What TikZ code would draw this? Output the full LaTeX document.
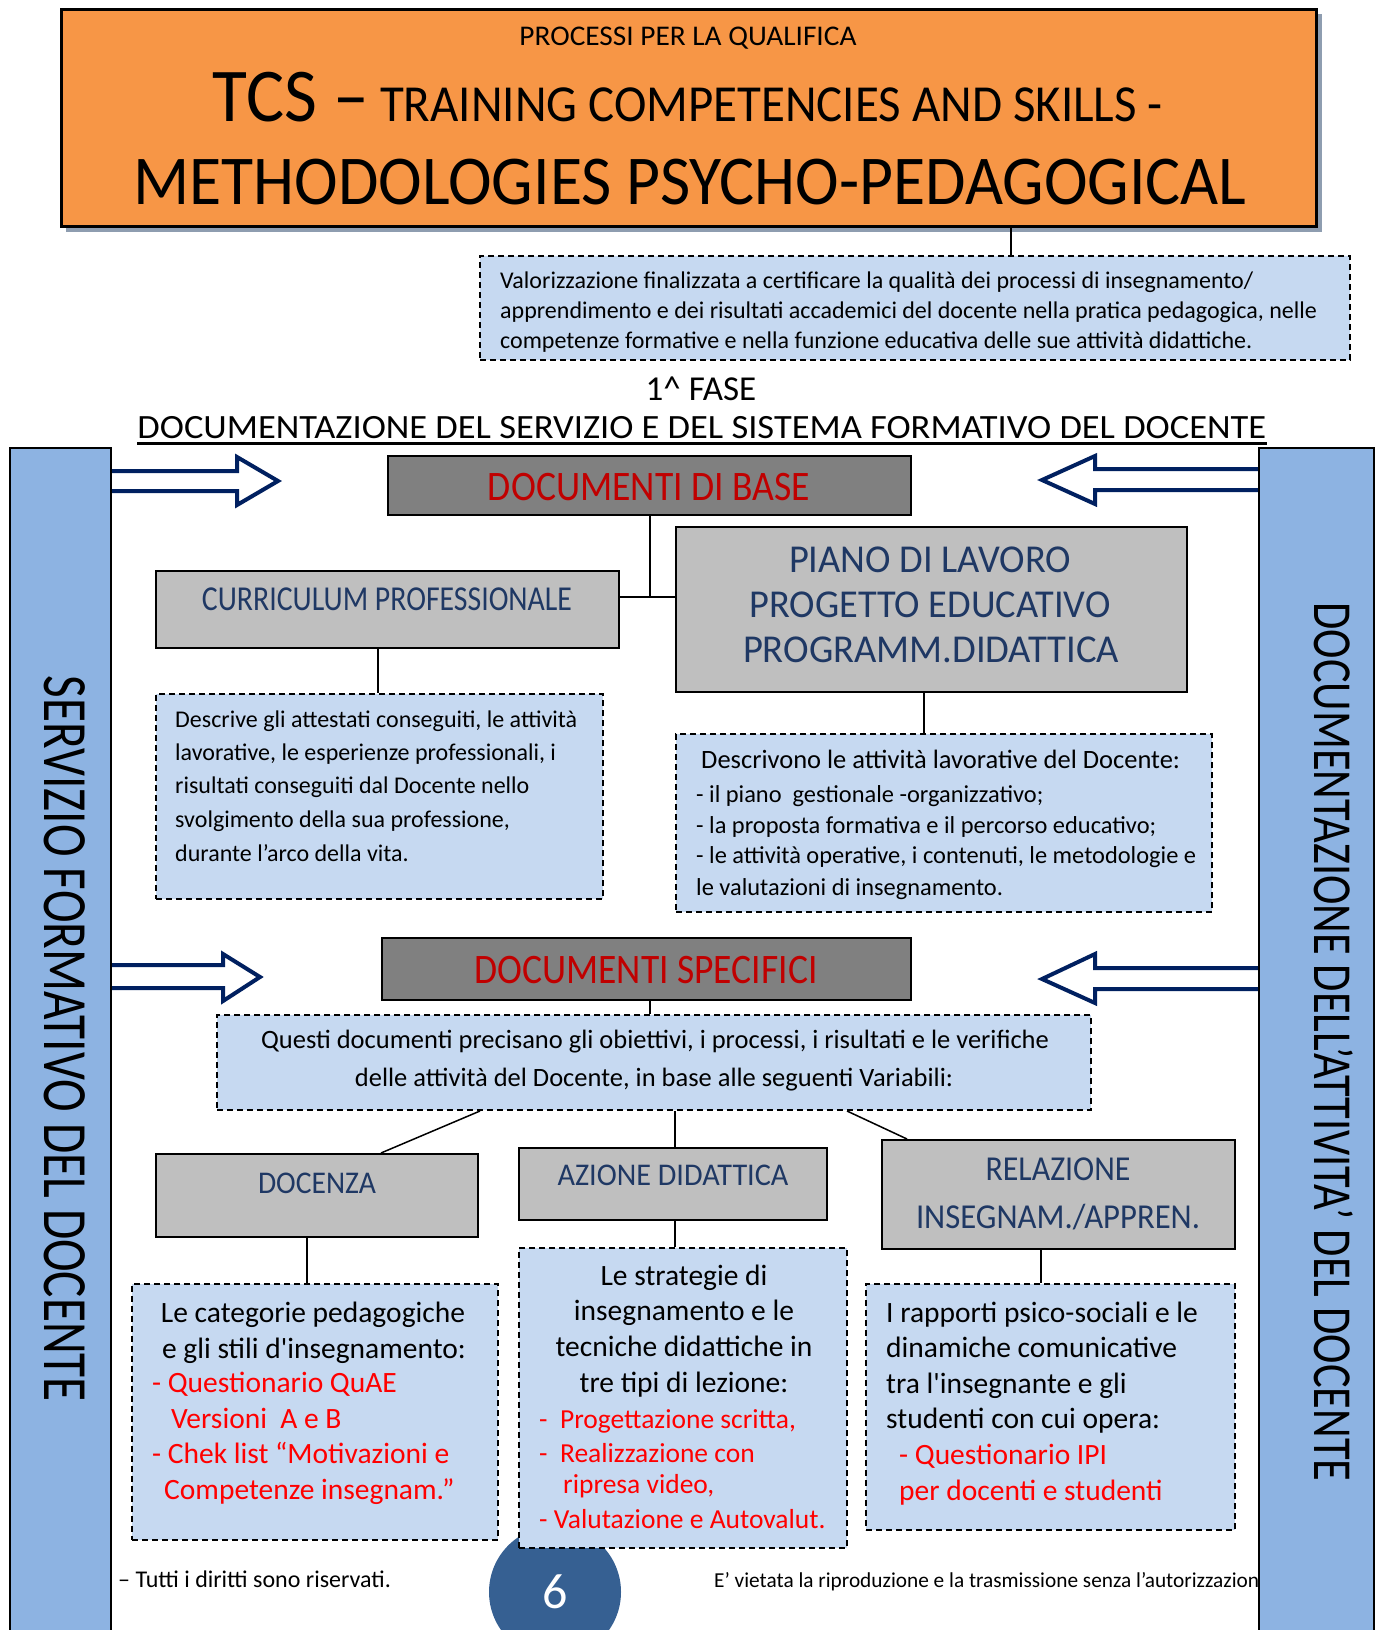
\documentclass[tikz,border=0pt]{standalone}
\usepackage{fontspec}
\setmainfont{Carlito}
\usepackage{graphicx}
\usetikzlibrary{fit}
\definecolor{orangeT}{HTML}{F79646}
\definecolor{shadowT}{HTML}{8E9DB0}
\definecolor{lblue}{HTML}{C6D9F1}
\definecolor{barblue}{HTML}{8DB3E2}
\definecolor{dgray}{HTML}{808080}
\definecolor{lgray}{HTML}{BFBFBF}
\definecolor{navyt}{HTML}{1F3864}
\definecolor{redh}{HTML}{C00000}
\definecolor{redb}{HTML}{FF0000}
\definecolor{arrnavy}{HTML}{002060}
\definecolor{circblue}{HTML}{366092}
\newcommand\fitw[2]{\resizebox{#1pt}{\height}{#2}}
\newcommand\fsz[1]{\fontsize{#1}{#1}\selectfont}
\begin{document}
\begin{tikzpicture}[x=1pt,y=-1pt,
 tx/.style={inner sep=0pt, anchor=base west},
 tc/.style={inner sep=0pt, anchor=base},
 dbox/.style={draw=black, line width=2pt, dash pattern=on 6pt off 4pt, fill=lblue, inner sep=0pt},
 gbox/.style={draw=black, line width=2pt, fill=lgray, inner sep=0pt},
 hbox/.style={draw=black, line width=2pt, fill=dgray, inner sep=0pt},
 sidebar/.style={draw=black, line width=2pt, fill=barblue, inner sep=0pt},
 conn/.style={draw=black, line width=1.5pt},
 barrow/.style={draw=arrnavy, line width=4pt, fill=white, line join=miter},
]
\useasboundingbox (0,0) rectangle (1382,1630);
\fill[white] (0,0) rectangle (1382,1630);

% header
\fill[shadowT] (66,14) rectangle (1322,232);
\node[draw=black, line width=3pt, fill=orangeT, inner sep=0pt, fit={(61.5,9) (1316.5,226)}] (title) {};
\node[tc] (tproc) at (688,45) {\fsz{28.5}\fitw{337}{PROCESSI PER LA QUALIFICA}};
\node[tc] (ttcs) at (688,121) {\fitw{950}{\fsz{76}TCS –\fsz{52} TRAINING COMPETENCIES AND SKILLS -}};
\node[tc] (tmeth) at (690,204) {\fsz{70}\fitw{1113}{METHODOLOGIES PSYCHO-PEDAGOGICAL}};

\node[dbox, fit={(480,256) (1350,360)}] (val) {};
\coordinate (c1) at (1011,0);
\draw[conn] (title.south -| c1) -- (val.north -| c1);
\node[tx] (v1) at (500,288) {\fsz{24}Valorizzazione finalizzata a certificare la qualità dei processi di insegnamento/};
\node[tx] (v2) at (500,318) {\fsz{24}apprendimento e dei risultati accademici del docente nella pratica pedagogica, nelle};
\node[tx] (v3) at (500,348) {\fsz{24}competenze formative e nella funzione educativa delle sue attività didattiche.};

\node[tc] (fase) at (701,400) {\fsz{35}1\textasciicircum\ FASE};
\node[tc] (doctitle) at (702,438) {\fsz{34}\fitw{1129}{DOCUMENTAZIONE DEL SERVIZIO E DEL SISTEMA FORMATIVO DEL DOCENTE}};
\draw[line width=3pt] ([yshift=-5pt]doctitle.base west) -- ([yshift=-5pt]doctitle.base east);

% page circle (behind boxes)
\node[circle, fill=circblue, minimum size=132pt, inner sep=0pt, text=white] (pg) at (555,1592) {\fsz{50}6};

% footers
\node[tx] (fl) at (118,1587) {\fsz{24}– Tutti i diritti sono riservati.};
\node[tx] (fr) at (714,1587) {\fsz{21.3}E’ vietata la riproduzione e la trasmissione senza l’autorizzazion};

% block arrows
\draw[barrow] (111,471) -- (237,471) -- (237,457) -- (278,481) -- (237,505) -- (237,491) -- (111,491);
\draw[barrow] (111,965) -- (223,965) -- (223,954) -- (260,977) -- (223,1001) -- (223,988) -- (111,988);
\draw[barrow] (1259,469) -- (1095,469) -- (1095,456) -- (1042,480) -- (1095,504) -- (1095,490) -- (1259,490);
\draw[barrow] (1259,968) -- (1095,968) -- (1095,954) -- (1042,979) -- (1095,1003) -- (1095,989) -- (1259,989);

% side bars
\node[sidebar, fit={(10,448) (111,1645)}] (barL) {};
\node[sidebar, fit={(1259,448) (1374,1645)}] (barR) {};
\node[rotate=-90, tc] (vL) at (45,1039) {\fsz{63}\fitw{726}{SERVIZIO FORMATIVO DEL DOCENTE}};
\node[rotate=-90, tc] (vR) at (1314,1042) {\fsz{55}\fitw{879}{DOCUMENTAZIONE DELL’ATTIVITA’ DEL DOCENTE}};

% boxes
\node[hbox, fit={(388,456) (911,515)}] (base) {};
\node[gbox, fit={(156,571) (619,648)}] (cur) {};
\node[gbox, fit={(676,527) (1187,692)}] (pia) {};
\node[dbox, fit={(156,694) (603,899)}] (curd) {};
\node[dbox, fit={(676,734) (1212,912)}] (piad) {};
\node[hbox, fit={(382,938) (911,1000)}] (spec) {};
\node[dbox, fit={(217,1015) (1091,1110)}] (que) {};
\node[gbox, fit={(156,1154) (478,1237)}] (docz) {};
\node[gbox, fit={(519,1148) (827,1220)}] (azi) {};
\node[gbox, fit={(882,1140) (1235,1249)}] (rel) {};
\node[dbox, fit={(132,1284) (498,1540)}] (doczd) {};
\node[dbox, fit={(519,1248) (847,1548)}] (azid) {};
\node[dbox, fit={(866,1284) (1235,1530)}] (reld) {};

% connectors
\coordinate (j) at (650,597);
\draw[conn] (base.south -| j) -- (j);
\draw[conn] (cur.east |- j) -- (pia.west |- j);
\coordinate (x1) at (378,0);
\draw[conn] (cur.south -| x1) -- (curd.north -| x1);
\coordinate (x2) at (924,0);
\draw[conn] (pia.south -| x2) -- (piad.north -| x2);
\coordinate (x3) at (650,0);
\draw[conn] (spec.south -| x3) -- (que.north -| x3);
\coordinate (x4a) at (480,0);
\coordinate (x4b) at (381,0);
\draw[conn] (que.south -| x4a) -- (docz.north -| x4b);
\coordinate (x5) at (675,0);
\draw[conn] (que.south -| x5) -- (azi.north -| x5);
\coordinate (x6a) at (847,0);
\coordinate (x6b) at (907,0);
\draw[conn] (que.south -| x6a) -- (rel.north -| x6b);
\coordinate (x7) at (307,0);
\draw[conn] (docz.south -| x7) -- (doczd.north -| x7);
\draw[conn] (azi.south -| x5) -- (azid.north -| x5);
\coordinate (x8) at (1041,0);
\draw[conn] (rel.south -| x8) -- (reld.north -| x8);

% box texts
\node[tc, text=redh] (tbase) at (649,500) {\fsz{42}\fitw{322}{DOCUMENTI DI BASE}};
\node[tc, text=navyt] (tcur) at (387,610) {\fsz{35}\fitw{370}{CURRICULUM PROFESSIONALE}};
\node[tc, text=navyt] (tp1) at (930,572) {\fsz{39.5}\fitw{282}{PIANO DI LAVORO}};
\node[tc, text=navyt] (tp2) at (930,617) {\fsz{39.5}\fitw{361}{PROGETTO EDUCATIVO}};
\node[tc, text=navyt] (tp3) at (931,662) {\fsz{39.5}\fitw{376}{PROGRAMM.DIDATTICA}};

\node[tx] (cd1) at (175,727) {\fsz{24}Descrive gli attestati conseguiti, le attività};
\node[tx] (cd2) at (175,760) {\fsz{24}lavorative, le esperienze professionali, i};
\node[tx] (cd3) at (175,793) {\fsz{24}risultati conseguiti dal Docente nello};
\node[tx] (cd4) at (175,827) {\fsz{24}svolgimento della sua professione,};
\node[tx] (cd5) at (175,861) {\fsz{24}durante l’arco della vita.};

\node[tx] (pd1) at (701,768) {\fsz{26.5}Descrivono le attività lavorative del Docente:};
\node[tx] (pd2) at (696,802) {\fsz{24.4}- il piano\ \ gestionale -organizzativo;};
\node[tx] (pd3) at (696,833) {\fsz{24.4}- la proposta formativa e il percorso educativo;};
\node[tx] (pd4) at (696,863) {\fsz{24.4}- le attività operative, i contenuti, le metodologie e};
\node[tx] (pd5) at (696,895) {\fsz{24.4}le valutazioni di insegnamento.};

\node[tc, text=redh] (tspec) at (646,983) {\fsz{42}\fitw{343}{DOCUMENTI SPECIFICI}};
\node[tc] (q1) at (655,1048) {\fsz{26.5}Questi documenti precisano gli obiettivi, i processi, i risultati e le verifiche};
\node[tc] (q2) at (654,1086) {\fsz{26.5}delle attività del Docente, in base alle seguenti Variabili:};

\node[tc, text=navyt] (tdocz) at (317,1193) {\fsz{31.6}\fitw{118}{DOCENZA}};
\node[tc, text=navyt] (tazi) at (673,1185) {\fsz{31.6}\fitw{231}{AZIONE DIDATTICA}};
\node[tc, text=navyt] (trel1) at (1058,1180) {\fsz{35}\fitw{145}{RELAZIONE}};
\node[tc, text=navyt] (trel2) at (1058,1228) {\fsz{35}\fitw{284}{INSEGNAM./APPREN.}};

\node[tc] (dz1) at (313,1322) {\fsz{29.5}Le categorie pedagogiche};
\node[tc] (dz2) at (314,1358) {\fsz{29.5}e gli stili d\textquotesingle insegnamento:};
\node[tx, text=redb] (dz3) at (152,1392) {\fsz{29.5}- Questionario QuAE};
\node[tx, text=redb] (dz4) at (171,1428) {\fsz{29.5}Versioni\ \ A e B};
\node[tx, text=redb] (dz5) at (152,1463) {\fsz{29.5}- Chek list “Motivazioni e};
\node[tx, text=redb] (dz6) at (164,1499) {\fsz{29.5}Competenze insegnam.”};

\node[tc] (az1) at (684,1285) {\fsz{29.5}Le strategie di};
\node[tc] (az2) at (684,1320) {\fsz{29.5}insegnamento e le};
\node[tc] (az3) at (684,1356) {\fsz{29.5}tecniche didattiche in};
\node[tc] (az4) at (684,1392) {\fsz{29.5}tre tipi di lezione:};
\node[tx, text=redb] (az5) at (539,1428) {\fsz{27.5}-\ \ Progettazione scritta,};
\node[tx, text=redb] (az6) at (539,1462) {\fsz{27.5}-\ \ Realizzazione con};
\node[tx, text=redb] (az7) at (563,1493) {\fsz{27.5}ripresa video,};
\node[tx, text=redb] (az8) at (539,1528) {\fsz{27.5}- Valutazione e Autovalut.};

\node[tx] (rl1) at (886,1322) {\fsz{29.5}I rapporti psico-sociali e le};
\node[tx] (rl2) at (886,1357) {\fsz{29.5}dinamiche comunicative};
\node[tx] (rl3) at (886,1393) {\fsz{29.5}tra l\textquotesingle insegnante e gli};
\node[tx] (rl4) at (886,1428) {\fsz{29.5}studenti con cui opera:};
\node[tx, text=redb] (rl5) at (899,1464) {\fsz{29.5}- Questionario IPI};
\node[tx, text=redb] (rl6) at (899,1500) {\fsz{29.5}per docenti e studenti};
\end{tikzpicture}
\end{document}
